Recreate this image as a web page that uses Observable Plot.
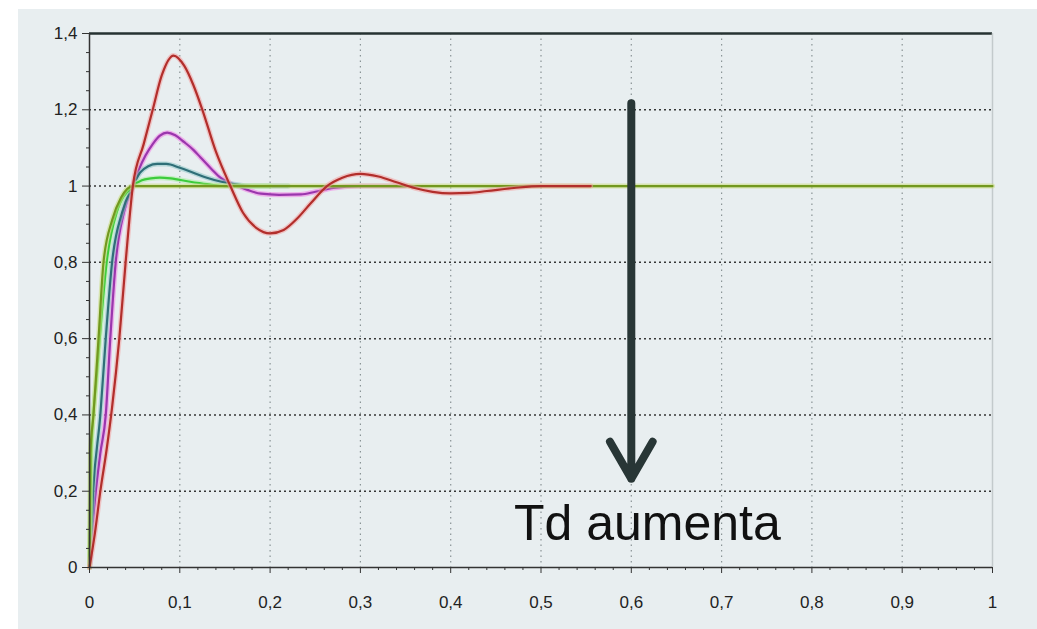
<!DOCTYPE html>
<html>
<head>
<meta charset="utf-8">
<script src="https://cdn.jsdelivr.net/npm/d3@7"></script>
<script src="https://cdn.jsdelivr.net/npm/@observablehq/plot@0.6"></script>
<style>
  html, body { margin: 0; padding: 0; background: #ffffff; }
  #wrap { position: relative; width: 1037px; height: 629px; overflow: hidden; }
  #panel { position: absolute; left: 18px; top: 9px; width: 1019px; height: 620px; background: #e8eef0; }
  #chart { position: absolute; left: 0; top: 0; }
</style>
</head>
<body>
<div id="wrap"><div id="panel"></div><div id="chart"></div></div>
<script>
// ---- tick values and labels ----
const xTicks = [0, 0.1, 0.2, 0.3, 0.4, 0.5, 0.6, 0.7, 0.8, 0.9, 1];
const xTickLabels = ["0", "0,1", "0,2", "0,3", "0,4", "0,5", "0,6", "0,7", "0,8", "0,9", "1"];
const yTicks = [0, 0.2, 0.4, 0.6, 0.8, 1, 1.2, 1.4];
const yTickLabels = ["0", "0,2", "0,4", "0,6", "0,8", "1", "1,2", "1,4"];
const xMinor = [0.02,0.04,0.06,0.08,0.12,0.14,0.16,0.18,0.22,0.24,0.26,0.28,0.32,0.34,0.36,0.38,0.42,0.44,0.46,0.48,0.52,0.54,0.56,0.58,0.62,0.64,0.66,0.68,0.72,0.74,0.76,0.78,0.82,0.84,0.86,0.88,0.92,0.94,0.96,0.98];
const yMinor = [0.05,0.1,0.15,0.25,0.3,0.35,0.45,0.5,0.55,0.65,0.7,0.75,0.85,0.9,0.95,1.05,1.1,1.15,1.25,1.3,1.35];
const xGridVals = [0.1, 0.2, 0.3, 0.4, 0.5, 0.6, 0.7, 0.8, 0.9];
const yGridVals = [0.2, 0.4, 0.6, 0.8, 1, 1.2];

// ---- step responses ----
const redT = [0, 0.006, 0.012, 0.019, 0.025, 0.033, 0.04, 0.048, 0.06, 0.07, 0.08, 0.093, 0.105, 0.115, 0.125, 0.14, 0.156, 0.17, 0.185, 0.2, 0.215, 0.23, 0.245, 0.263, 0.28, 0.3, 0.32, 0.34, 0.36, 0.38, 0.4, 0.42, 0.44, 0.47, 0.5, 0.555];
const redY = [0, 0.09, 0.2, 0.31, 0.42, 0.6, 0.8, 1.0, 1.11, 1.2, 1.29, 1.342, 1.315, 1.265, 1.2, 1.09, 1.0, 0.93, 0.89, 0.876, 0.885, 0.915, 0.955, 1.0, 1.022, 1.032, 1.025, 1.01, 0.995, 0.985, 0.981, 0.982, 0.987, 0.995, 1.0, 1.0];

const magT = [0, 0.003, 0.007, 0.012, 0.018, 0.023, 0.029, 0.038, 0.048, 0.055, 0.062, 0.07, 0.078, 0.086, 0.095, 0.105, 0.115, 0.123, 0.135, 0.145, 0.155, 0.164, 0.175, 0.19, 0.21, 0.234, 0.25, 0.27, 0.3, 0.35];
const magY = [0, 0.1, 0.2, 0.3, 0.4, 0.6, 0.8, 0.93, 1.0, 1.045, 1.08, 1.11, 1.132, 1.14, 1.133, 1.115, 1.095, 1.075, 1.045, 1.022, 1.008, 1.0, 0.99, 0.98, 0.977, 0.978, 0.985, 0.995, 1.0, 1.0];

const tealT = [0, 0.004, 0.012, 0.018, 0.025, 0.036, 0.048, 0.056, 0.065, 0.075, 0.085, 0.1, 0.115, 0.13, 0.145, 0.16, 0.18, 0.22];
const tealY = [0, 0.2, 0.4, 0.6, 0.8, 0.93, 1.0, 1.035, 1.052, 1.058, 1.058, 1.048, 1.035, 1.022, 1.012, 1.005, 1.0, 1.0];

const lgreenT = [0, 0.002, 0.008, 0.013, 0.019, 0.03, 0.048, 0.058, 0.068, 0.078, 0.09, 0.11, 0.13, 0.15, 0.2];
const lgreenY = [0, 0.3, 0.5, 0.65, 0.8, 0.93, 1.0, 1.015, 1.02, 1.022, 1.02, 1.012, 1.005, 1.0, 1.0];

const greenT = [0, 0.001, 0.0044, 0.01, 0.0155, 0.025, 0.035, 0.048, 0.06, 0.2, 0.5, 1.0];
const greenY = [0, 0.3, 0.4, 0.6, 0.8, 0.91, 0.97, 1.0, 1.0, 1.0, 1.0, 1.0];

const seriesNames = ["magenta", "teal", "lightgreen", "green", "red"];
const seriesColors = ["#9a36ad", "#2f6f78", "#3ccc3c", "#72981f", "#b22e2b"];
const haloColors = ["#f07be6", "#8cc7c7", "#a8eea0", "#c9dc7a", "#f3a0a0"];

// ---- annotation ----
const arrowX = [0.6];
const arrowFrom = [1.217];
const arrowTo = [0.233];
const noteText = ["Td aumenta"];
const noteX = [0.47];
const noteY = [0.113];

const toRows = (t, y, name) => t.map((v, i) => ({t: v, y: y[i], s: name}));
const seriesData = [
  toRows(magT, magY, "magenta"),
  toRows(tealT, tealY, "teal"),
  toRows(lgreenT, lgreenY, "lightgreen"),
  toRows(greenT, greenY, "green"),
  toRows(redT, redY, "red")
];

const lineMarks = [];
seriesData.forEach((rows, i) => {
  lineMarks.push(Plot.line(rows, {x: "t", y: "y", stroke: haloColors[i], strokeWidth: 5, strokeOpacity: 0.55, curve: "monotone-x"}));
  lineMarks.push(Plot.line(rows, {x: "t", y: "y", stroke: seriesColors[i], strokeWidth: 2.2, curve: "monotone-x"}));
});

const xFmt = d => xTickLabels[xTicks.findIndex(v => Math.abs(v - d) < 1e-9)];
const yFmt = d => yTickLabels[yTicks.findIndex(v => Math.abs(v - d) < 1e-9)];
const tickFont = "'Liberation Sans Narrow', 'Liberation Sans', Arial, sans-serif";

const chart = Plot.plot({
  width: 1037,
  height: 629,
  marginLeft: 89,
  marginRight: 45,
  marginTop: 33,
  marginBottom: 62,
  x: {domain: [0, 1]},
  y: {domain: [0, 1.4]},
  style: {background: "transparent", fontFamily: tickFont, fontSize: "17px", color: "#222"},
  marks: [
    Plot.gridX(xGridVals, {stroke: "#7f8a8c", strokeOpacity: 0.9, strokeDasharray: "1.5,4", strokeWidth: 1.2}),
    Plot.gridY(yGridVals, {stroke: "#222", strokeOpacity: 0.9, strokeDasharray: "2,3", strokeWidth: 1.5}),
    Plot.ruleY([1.4], {stroke: "#263232", strokeWidth: 2.5}),
    Plot.ruleX([1], {stroke: "#c3cacc", strokeWidth: 1.5}),
    ...lineMarks,
    Plot.ruleX([0], {stroke: "#333", strokeWidth: 1.5}),
    Plot.ruleY([0], {stroke: "#333", strokeWidth: 1.5}),
    Plot.axisX({ticks: xTicks, tickFormat: xFmt, tickSize: 6, tickPadding: 22, label: null, stroke: "#333", fill: "#222", fontSize: 17}),
    Plot.axisX({ticks: xMinor, tickFormat: () => "", tickSize: 3, label: null, stroke: "#333"}),
    Plot.axisY({ticks: yTicks, tickFormat: yFmt, tickSize: 7, tickPadding: 5, label: null, stroke: "#333", fill: "#222", fontSize: 17}),
    Plot.axisY({ticks: yMinor, tickFormat: () => "", tickSize: 3, label: null, stroke: "#333"}),
    Plot.arrow(arrowX.map((x, i) => ({x, a: arrowFrom[i], b: arrowTo[i]})), {x1: "x", y1: "a", x2: "x", y2: "b", stroke: "#283636", strokeWidth: 8}),
    Plot.text(noteText.map((t, i) => ({t, x: noteX[i], y: noteY[i]})), {x: "x", y: "y", text: "t", textAnchor: "start", fontSize: 50, fill: "#111", fontFamily: "'Liberation Sans', Arial, sans-serif"})
  ]
});
document.getElementById("chart").appendChild(chart);
</script>
</body>
</html>
